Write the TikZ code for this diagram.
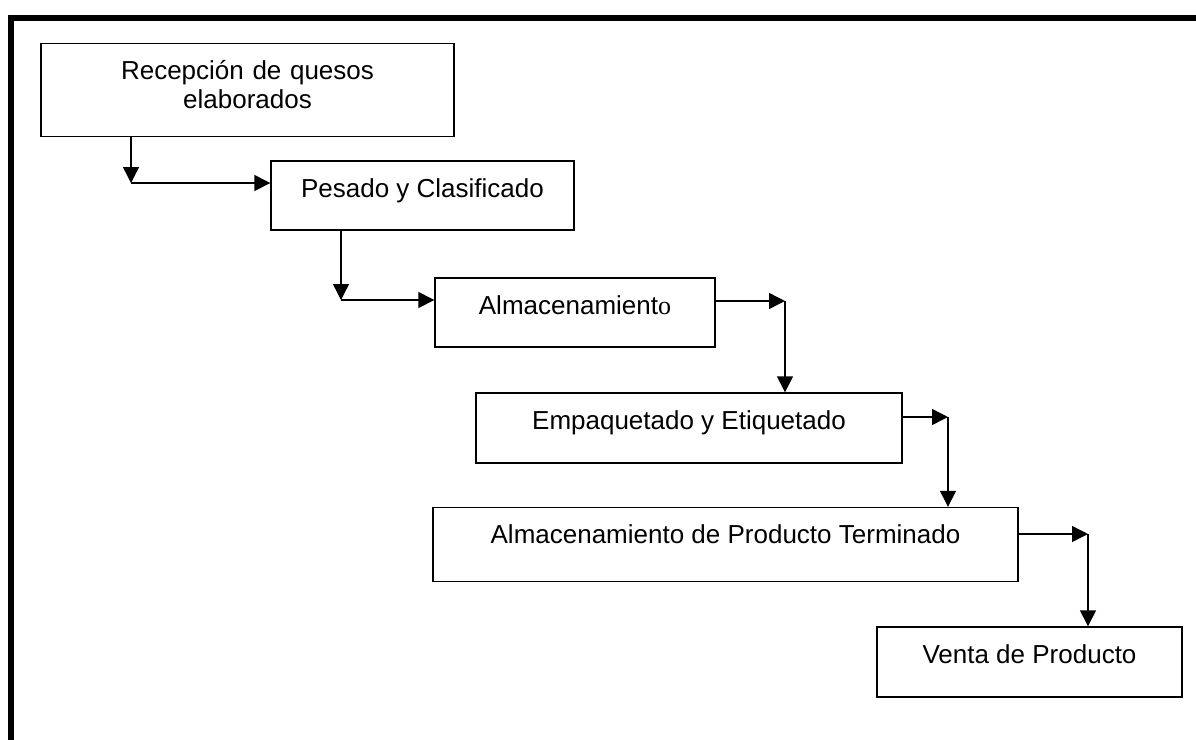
\documentclass[tikz,border=0pt]{standalone}
\usepackage{fontspec}
\setmainfont{Liberation Sans}
\newfontfamily\timesrm{Liberation Serif}
\usepackage{tikz}
\usetikzlibrary{arrows.meta}

\begin{document}
\begin{tikzpicture}[x=0.5pt, y=-0.5pt,
      every node/.append style={font=\fontsize{13}{14.5}\selectfont},
      proc/.style={draw, line width=0.7pt, inner ysep=0pt, text height=18pt},
      link/.style={line width=0.7pt, -{Triangle[length=8pt,width=8pt]}}]
    \useasboundingbox (0,0) rectangle (1196,740);
    \draw[line width=3pt, line join=miter] (11,740) -- (11,17.5) -- (1196,17.5);
    % process steps
    \node (recep) [proc, text width=200pt, align=center, text depth=28.5pt] at (247.5,90)
      {Recepción de quesos\\elaborados};
    \node (pesado) [proc, minimum width=151.5pt, text depth=16.5pt] at (422.5,195.5) {Pesado y Clasificado};
    \node (almac) [proc, minimum width=140pt, text depth=16.5pt] at (575,312.5) {Almacenamient{\timesrm o}};
    \node (empaq) [proc, minimum width=213pt, text depth=17pt] at (689,428) {Empaquetado y Etiquetado};
    \node (almpt) [proc, minimum width=292.5pt, text depth=19pt] at (725.5,544.5) {Almacenamiento de Producto Terminado};
    \node (venta) [proc, minimum width=152.5pt, text depth=17pt] at (1029.5,662) {Venta de Producto};
    % bends of the connectors
    \coordinate (k1) at (131,183);
    \coordinate (k2) at (341,300);
    \coordinate (k3) at (785,301);
    \coordinate (k4) at (948,417);
    \coordinate (k5) at (1088,534);
    \draw[link] (recep.south -| k1) -- (k1);
    \draw[link] (k1) -- (k1 -| pesado.west);
    \draw[link] (pesado.south -| k2) -- (k2);
    \draw[link] (k2) -- (k2 -| almac.west);
    \draw[link] (k3 -| almac.east) -- (k3);
    \draw[link] (k3) -- (k3 |- empaq.north);
    \draw[link] (k4 -| empaq.east) -- (k4);
    \draw[link] (k4) -- (k4 |- almpt.north);
    \draw[link] (k5 -| almpt.east) -- (k5);
    \draw[link] (k5) -- (k5 |- venta.north);
\end{tikzpicture}
\end{document}
